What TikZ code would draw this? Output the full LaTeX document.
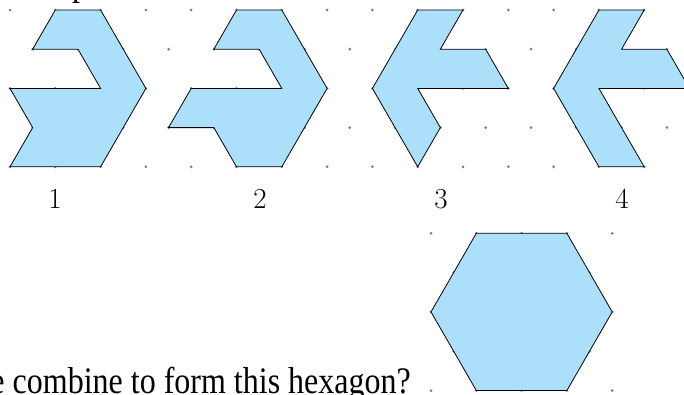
\documentclass[tikz,border=0pt]{standalone}
\usepackage{fontspec}
\newfontfamily\qfont{Liberation Serif}
\definecolor{shapefill}{RGB}{172,223,249}
\definecolor{dotc}{RGB}{125,125,125}
\begin{document}
\begin{tikzpicture}[x=1pt,y=-1pt,
  piece/.style={fill=shapefill,draw=black,line width=0.8pt,line join=miter},
  gdot/.style={fill=dotc},
  numlab/.style={font=\fontsize{29}{30}\selectfont,inner sep=0pt},
  qtext/.style={font=\qfont\fontsize{32}{34}\selectfont,inner sep=0pt,yscale=1.17}]
\useasboundingbox (0,0) rectangle (684,394);
\clip (0,0) rectangle (684,394);
% top lattice with the four pieces
\begin{scope}[xshift=10pt,yshift=-10pt,x=22.65pt,y=-39.2pt]
  \foreach \r in {0,2,4} \foreach \a in {0,2,...,30} \fill[gdot] (\a,\r) circle (1.5pt);
  \foreach \r in {1,3} \foreach \a in {-1,1,...,29} \fill[gdot] (\a,\r) circle (1.5pt);
  \draw[piece] (2,0) -- (4,0) -- (6,2) -- (4,4) -- (0,4) -- (1,3) -- (0,2) -- (4,2) -- (3,1) -- (1,1) -- cycle;
  \draw[piece] (10,0) -- (12,0) -- (14,2) -- (12,4) -- (10,4) -- (9,3) -- (7,3) -- (8,2) -- (12,2) -- (11,1) -- (9,1) -- cycle;
  \draw[piece] (18,0) -- (20,0) -- (19,1) -- (21,1) -- (22,2) -- (18,2) -- (19,3) -- (18,4) -- (16,2) -- cycle;
  \draw[piece] (26,0) -- (28,0) -- (27,1) -- (29,1) -- (30,2) -- (26,2) -- (28,4) -- (26,4) -- (24,2) -- cycle;
\end{scope}
% hexagon lattice
\begin{scope}[xshift=431pt,yshift=-233.3pt,x=22.65pt,y=-39.3pt]
  \foreach \r in {0,2,4} \foreach \a in {0,2,...,8} \fill[gdot] (\a,\r) circle (1.5pt);
  \foreach \r in {1,3} \foreach \a in {1,3,...,7} \fill[gdot] (\a,\r) circle (1.5pt);
  \draw[piece] (2,0) -- (6,0) -- (8,2) -- (6,4) -- (2,4) -- (0,2) -- cycle;
\end{scope}
% labels
\node[numlab] (n1) at (55,199) {1};
\node[numlab] (n2) at (260,199) {2};
\node[numlab] (n3) at (441,199) {3};
\node[numlab] (n4) at (622,199) {4};
\node[qtext,anchor=base east] (q) at (411,393.5) {e combine to form this hexagon?};
\node[qtext,anchor=base west] (qp) at (72,-4.5) {p};
\end{tikzpicture}
\end{document}
